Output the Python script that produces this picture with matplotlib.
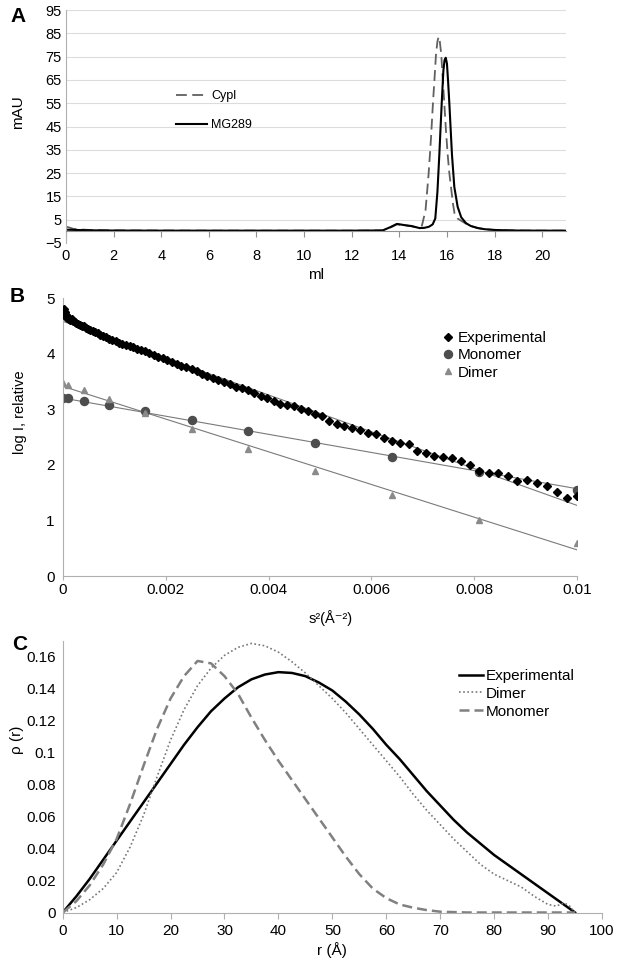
import numpy as np
import matplotlib
matplotlib.use('Agg')
from matplotlib import pyplot as plt

plt.rcParams['font.family'] = ['Liberation Sans', 'DejaVu Sans']

# ---- A: elution profiles (ml vs mAU)
cypl_ml = [0, 0.15, 0.3, 0.6, 1.0, 2, 4, 6, 8, 10, 12, 13.3, 13.6, 13.9, 14.2, 14.5, 14.8,
           14.95, 15.1, 15.23, 15.33, 15.41, 15.48, 15.54, 15.6, 15.65, 15.7, 15.76, 15.82,
           15.89, 15.96, 16.03, 16.1, 16.17, 16.25, 16.32, 16.45, 16.6, 16.8, 17.0, 17.3,
           17.6, 18.0, 18.5, 19, 20, 21]
cypl_mau = [2.0, 1.6, 1.1, 0.8, 0.6, 0.4, 0.35, 0.3, 0.3, 0.3, 0.3, 0.4, 1.5, 3.0, 2.6, 2.2, 1.6,
            2.5, 9, 24.7, 40, 54.7, 66, 76, 81.5, 83.5, 81.5, 76, 66,
            54.7, 43, 33, 25, 19, 12, 7.6, 5.5, 4.5, 3.3, 2.3, 1.4,
            0.9, 0.6, 0.45, 0.35, 0.3, 0.3]
mg_ml = [0, 1, 2, 4, 6, 8, 10, 12, 13.3, 13.6, 13.9, 14.2, 14.5, 14.85, 15.05, 15.25, 15.4,
         15.51, 15.6, 15.68, 15.78, 15.85, 15.9, 15.95, 16.0, 16.05, 16.1, 16.21, 16.31,
         16.45, 16.6, 16.8, 17.0, 17.3, 17.6, 18, 18.5, 19, 20, 21]
mg_mau = [0.7, 0.45, 0.35, 0.3, 0.3, 0.3, 0.3, 0.3, 0.4, 1.7, 3.2, 2.7, 2.3, 1.4, 1.5, 2.0, 3.0,
          5.5, 17, 33, 55, 69, 73.5, 74.5, 72, 64, 55, 33, 19,
          10.5, 6, 3.5, 2.3, 1.4, 0.9, 0.6, 0.45, 0.35, 0.3, 0.3]

# ---- B: Guinier plot
exp_s2 = [0.000025, 0.000036, 0.000049, 0.000064, 0.000081, 0.0001, 0.000121, 0.000144,
          0.000169, 0.000196, 0.000225, 0.000256, 0.000289, 0.000324, 0.000361, 0.0004,
          0.000441, 0.000484, 0.000529, 0.000576, 0.000625, 0.000676, 0.000729, 0.000784,
          0.000841, 0.0009, 0.000961, 0.001024, 0.001089, 0.001156, 0.001225, 0.001296,
          0.001369, 0.001444, 0.001521, 0.0016, 0.001681, 0.001764, 0.001849, 0.001936,
          0.002025, 0.002116, 0.002209, 0.002304, 0.002401, 0.0025, 0.002601, 0.002704,
          0.002809, 0.002916, 0.003025, 0.003136, 0.003249, 0.003364, 0.003481, 0.0036,
          0.003721, 0.003844, 0.003969, 0.004096, 0.004225, 0.004356, 0.004489, 0.004624,
          0.004761, 0.0049, 0.005041, 0.005184, 0.005329, 0.005476, 0.005625, 0.005776,
          0.005929, 0.006084, 0.006241, 0.0064, 0.006561, 0.006724, 0.006889, 0.007056,
          0.007225, 0.007396, 0.007569, 0.007744, 0.007921, 0.0081, 0.008281, 0.008464,
          0.008649, 0.008836, 0.009025, 0.009216, 0.009409, 0.009604, 0.009801, 0.01]
exp_logi = [4.80, 4.74, 4.66, 4.70, 4.64, 4.66, 4.62, 4.60,
            4.62, 4.58, 4.57, 4.55, 4.53, 4.52, 4.50, 4.49,
            4.46, 4.44, 4.42, 4.40, 4.38, 4.37, 4.34, 4.32,
            4.29, 4.27, 4.24, 4.22, 4.19, 4.17, 4.15, 4.13,
            4.11, 4.08, 4.06, 4.04, 4.01, 3.98, 3.94, 3.92,
            3.88, 3.85, 3.82, 3.78, 3.76, 3.72, 3.68, 3.64,
            3.60, 3.56, 3.53, 3.49, 3.46, 3.40, 3.39, 3.34,
            3.29, 3.23, 3.20, 3.15, 3.09, 3.08, 3.05, 3.00,
            2.96, 2.91, 2.88, 2.78, 2.73, 2.70, 2.67, 2.63,
            2.57, 2.55, 2.49, 2.42, 2.40, 2.37, 2.25, 2.21,
            2.16, 2.14, 2.12, 2.06, 1.99, 1.88, 1.86, 1.85,
            1.79, 1.70, 1.72, 1.67, 1.62, 1.51, 1.40, 1.44]
model_s2 = [0, 0.0001, 0.0004, 0.0009, 0.0016, 0.0025, 0.0036, 0.0049, 0.0064, 0.0081, 0.01]
mono_logi = [3.21, 3.20, 3.15, 3.07, 2.96, 2.80, 2.61, 2.39, 2.14, 1.87, 1.55]
dimer_logi = [3.47, 3.44, 3.35, 3.18, 2.93, 2.65, 2.28, 1.89, 1.45, 1.01, 0.59]
fit_s2 = [0, 0.01]
exp_fit = [4.58, 1.27]
mono_fit = [3.20, 1.57]
dimer_fit = [3.41, 0.47]
b_xticks = [0, 0.002, 0.004, 0.006, 0.008, 0.01]
b_xticklabels = ['0', '0.002', '0.004', '0.006', '0.008', '0.01']

# ---- C: pair distribution functions
exp_r = [0, 2.5, 5, 7.5, 10, 12.5, 15, 17.5, 20, 22.5, 25, 27.5, 30, 32.5, 35, 37.5, 40,
         42.5, 45, 47.5, 50, 52.5, 55, 57.5, 60, 62.5, 65, 67.5, 70, 72.5, 75, 77.5, 80,
         82.5, 85, 87.5, 90, 92.5, 95]
exp_p = [0, 0.010, 0.021, 0.033, 0.045, 0.057, 0.069, 0.081, 0.093, 0.105, 0.116, 0.126,
         0.134, 0.141, 0.146, 0.149, 0.1505, 0.150, 0.148, 0.144, 0.139, 0.132, 0.124,
         0.115, 0.105, 0.096, 0.086, 0.076, 0.067, 0.058, 0.050, 0.043, 0.036, 0.030,
         0.024, 0.018, 0.012, 0.006, 0]
dimer_r = [0, 2.5, 5, 7.5, 10, 12.5, 15, 17.5, 20, 22.5, 25, 27.5, 30, 32.5, 35, 37.5, 40,
           42.5, 45, 47.5, 50, 52.5, 55, 57.5, 60, 62.5, 65, 67.5, 70, 72.5, 75, 77.5, 80,
           82.5, 85, 87.5, 90, 91.5, 93, 94, 95]
dimer_p = [0, 0.003, 0.008, 0.015, 0.025, 0.041, 0.061, 0.085, 0.108, 0.127, 0.142, 0.153,
           0.161, 0.166, 0.1685, 0.167, 0.163, 0.157, 0.150, 0.142, 0.134, 0.125, 0.115,
           0.105, 0.095, 0.085, 0.074, 0.064, 0.055, 0.046, 0.038, 0.030, 0.024, 0.020,
           0.016, 0.010, 0.005, 0.004, 0.006, 0.004, 0]
mono_r = [0, 2.5, 5, 7.5, 10, 12.5, 15, 17.5, 20, 22.5, 25, 27.5, 30, 32.5, 35, 37.5, 40,
          42.5, 45, 47.5, 50, 52.5, 55, 57.5, 60, 62.5, 65, 67.5, 70, 75, 80, 85, 90, 95]
mono_p = [0, 0.007, 0.017, 0.030, 0.046, 0.068, 0.092, 0.115, 0.134, 0.148, 0.1575, 0.156,
          0.148, 0.137, 0.122, 0.108, 0.095, 0.083, 0.071, 0.059, 0.047, 0.035, 0.024,
          0.015, 0.009, 0.005, 0.003, 0.0015, 0.0005, 0, 0, 0, 0, 0]
c_yticks = [0, 0.02, 0.04, 0.06, 0.08, 0.1, 0.12, 0.14, 0.16]
c_yticklabels = ['0', '0.02', '0.04', '0.06', '0.08', '0.1', '0.12', '0.14', '0.16']

W, H = 618, 961
fig = plt.figure(figsize=(W / 100, H / 100), dpi=100)


def box(l, t, r, b):
    return [l / W, 1 - b / H, (r - l) / W, (b - t) / H]


spine_col = '#b0b0b0'

# ================= A
axA = fig.add_axes(box(66, 10, 566, 243))
axA.set_xlim(0, 21)
axA.set_ylim(-5, 95)
for yv in range(5, 96, 10):
    axA.axhline(yv, color='#dcdcdc', lw=0.8, zorder=0)
axA.plot(cypl_ml, cypl_mau, color='#606060', lw=1.3, dashes=(6, 3), label='Cypl')
axA.plot(mg_ml, mg_mau, color='black', lw=1.5, label='MG289')
axA.set_xticks(range(0, 21, 2))
axA.set_yticks(range(-5, 96, 10))
for s in ['top', 'right']:
    axA.spines[s].set_visible(False)
axA.spines['left'].set_color(spine_col)
axA.spines['bottom'].set_position(('data', 0))
axA.spines['bottom'].set_color('#909090')
axA.tick_params(axis='x', length=4, color='#909090', pad=9, labelsize=10.5)
axA.tick_params(axis='y', length=0, pad=3, labelsize=10.5)
axA.set_xlabel('ml', fontsize=11)
axA.xaxis.set_label_coords(0.5, -0.107)
axA.set_ylabel('mAU', fontsize=11)
axA.yaxis.set_label_coords(-0.082, 0.562)
axA.legend(loc='upper left', bbox_to_anchor=(176 / W, 1 - 90 / H),
           bbox_transform=fig.transFigure, frameon=False, fontsize=9,
           borderpad=0, borderaxespad=0, handlelength=2.5, handletextpad=0.3,
           labelspacing=1.4)

# ================= B
axB = fig.add_axes(box(63, 298, 577, 576))
axB.set_xlim(0, 0.01)
axB.set_ylim(0, 5)
axB.plot(fit_s2, exp_fit, color='#7a7a7a', lw=0.8, zorder=1)
axB.plot(fit_s2, mono_fit, color='#7a7a7a', lw=0.8, zorder=1)
axB.plot(fit_s2, dimer_fit, color='#7a7a7a', lw=0.8, zorder=1)
axB.plot(exp_s2, exp_logi, 'D', color='black', ms=4.2, ls='none', label='Experimental', zorder=3)
axB.plot(model_s2, mono_logi, 'o', color='#4d4d4d', ms=5.8, ls='none', label='Monomer', zorder=2)
axB.plot(model_s2, dimer_logi, '^', color='#8a8a8a', ms=5, ls='none', label='Dimer', zorder=2)
axB.set_xticks(b_xticks)
axB.set_xticklabels(b_xticklabels)
axB.set_yticks(range(0, 6))
for s in ['top', 'right']:
    axB.spines[s].set_visible(False)
for s in ['left', 'bottom']:
    axB.spines[s].set_color(spine_col)
axB.tick_params(axis='x', length=3, color=spine_col, pad=2, labelsize=11)
axB.tick_params(axis='y', length=0, pad=6, labelsize=11)
axB.set_xlabel('s²(Å⁻²)', fontsize=10.5)
axB.xaxis.set_label_coords(0.52, -0.122)
axB.set_ylabel('log I, relative', fontsize=10.5)
axB.yaxis.set_label_coords(-0.07, 0.59)
axB.legend(loc='upper left', bbox_to_anchor=(442 / W, 1 - 331 / H),
           bbox_transform=fig.transFigure, frameon=False, fontsize=11,
           borderpad=0, borderaxespad=0, handlelength=0.8, handletextpad=0.2,
           labelspacing=0.22)

# ================= C
axC = fig.add_axes(box(62.7, 641, 602, 912.5))
axC.set_xlim(0, 100)
axC.set_ylim(0, 0.17)
axC.plot(exp_r, exp_p, color='black', lw=1.8, label='Experimental')
axC.plot(dimer_r, dimer_p, color='#777777', lw=1.2, ls=(0, (1, 1.5)), label='Dimer')
axC.plot(mono_r, mono_p, color='#808080', lw=1.8, dashes=(4, 2), label='Monomer')
axC.set_xticks(range(0, 101, 10))
axC.set_yticks(c_yticks)
axC.set_yticklabels(c_yticklabels)
for s in ['top', 'right']:
    axC.spines[s].set_visible(False)
for s in ['left', 'bottom']:
    axC.spines[s].set_color(spine_col)
axC.tick_params(axis='x', length=4, color=spine_col, pad=4, labelsize=11)
axC.tick_params(axis='y', length=0, pad=5, labelsize=11)
axC.set_xlabel('r (Å)', fontsize=11)
axC.xaxis.set_label_coords(0.5, -0.108)
axC.set_ylabel('ρ (r)', fontsize=11)
axC.yaxis.set_label_coords(-0.072, 0.635)
axC.legend(loc='upper left', bbox_to_anchor=(459 / W, 1 - 669 / H),
           bbox_transform=fig.transFigure, frameon=False, fontsize=11,
           borderpad=0, borderaxespad=0, handlelength=1.6, handletextpad=0.15,
           labelspacing=0.25)

# panel letters
for lab, x, y in [('A', 10, 16), ('B', 10, 297), ('C', 12, 645)]:
    fig.text(x / W, 1 - y / H, lab, fontsize=15, fontweight='bold', ha='left', va='center')

fig.savefig('out.png', dpi=100)
